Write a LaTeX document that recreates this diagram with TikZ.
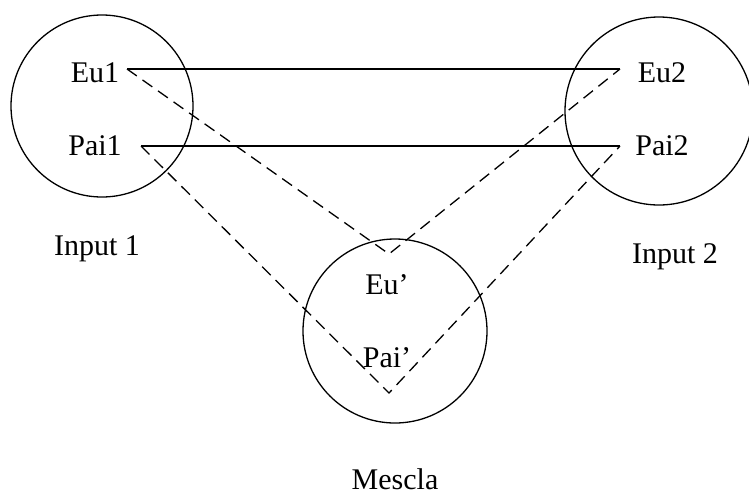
\documentclass[tikz,border=0pt]{standalone}
\usepackage{fontspec}
\setmainfont{Liberation Serif}
\begin{document}
\begin{tikzpicture}[x=1pt,y=-1pt,
  lbl/.style={anchor=base,inner sep=0pt,font=\fontsize{30}{36}\selectfont},
  ring/.style={draw,line width=1.3pt},
  solidline/.style={line width=1.3pt},
  dashline/.style={line width=1.3pt,dash pattern=on 12pt off 7pt}]
\useasboundingbox (0,0) rectangle (749,493);
\begin{scope}
\clip (0,0) rectangle (749,493);
\draw[ring] (102,106) circle (91);
\draw[ring] (659,111) circle (94);
\draw[ring] (395,331) circle (92);
\end{scope}
\node[lbl] (eu1) at (95,82) {Eu1};
\node[lbl] (pai1) at (95,155) {Pai1};
\node[lbl] (in1) at (97,255) {Input 1};
\node[lbl] (eu2) at (662,82) {Eu2};
\node[lbl] (pai2) at (662,155) {Pai2};
\node[lbl] (in2) at (675,263) {Input 2};
\node[lbl] (eup) at (387,294) {Eu’};
\node[lbl] (paip) at (387,367) {Pai’};
\node[lbl,text depth=0pt] (mes) at (395,489) {Mescla};
\coordinate (E1) at (127,69);
\coordinate (P1) at (141,146);
\coordinate (E2) at (620,69);
\coordinate (P2) at (620,146);
\coordinate (VE) at (389,254);
\coordinate (VP) at (389,393);
\draw[solidline] (E1) -- (E2);
\draw[solidline] (P1) -- (P2);
\draw[dashline] (E1) -- (VE) -- (E2);
\draw[dashline] (P1) -- (VP) -- (P2);
\end{tikzpicture}
\end{document}
